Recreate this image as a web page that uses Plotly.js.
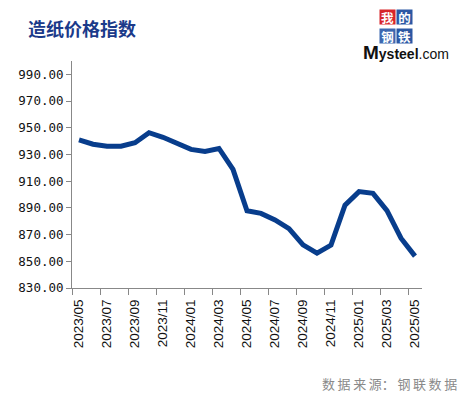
<!DOCTYPE html>
<html>
<head>
<meta charset="utf-8">
<script src="https://cdn.plot.ly/plotly-3.0.1.min.js"></script>
<style>html,body{margin:0;padding:0;background:#fff;}#chart{width:463px;height:397px;}</style>
</head>
<body>
<div id="chart"></div>
<script>
const months = ["2023/05","2023/06","2023/07","2023/08","2023/09","2023/10","2023/11","2023/12",
  "2024/01","2024/02","2024/03","2024/04","2024/05","2024/06","2024/07","2024/08","2024/09",
  "2024/10","2024/11","2024/12","2025/01","2025/02","2025/03","2025/04","2025/05"];
const paperIndex = [940.9, 937.7, 936.2, 936.2, 938.8, 946.3, 942.9, 938.4, 933.8, 932.2, 934.5,
  918.8, 887.8, 885.9, 881.0, 874.5, 862.3, 856.1, 862.1, 892.0, 902.2, 900.9, 888.0, 867.3, 853.9];
const yTicks = [830, 850, 870, 890, 910, 930, 950, 970, 990];
const yTickText = yTicks.map(v => v.toFixed(2));

const L = 72, R = 422, T = 61, B = 288;
const px = v => (v - L) / (R - L);
const py = v => (B - v) / (B - T);

const trace = {
  x: months, y: paperIndex, type: 'scatter', mode: 'lines',
  line: {color: '#083D8C', width: 5, shape: 'linear'},
  hoverinfo: 'skip'
};

const boxFont = {family: 'Noto Sans CJK SC', size: 12.5, color: '#ffffff', weight: 'bold'};
const box = (t, cx, cy, col) => ({text: t, xref: 'paper', yref: 'paper', x: px(cx), y: py(cy),
  showarrow: false, width: 15, height: 14, borderpad: 0, bgcolor: col, font: boxFont,
  xanchor: 'center', yanchor: 'middle'});

const layout = {
  width: 463, height: 397,
  margin: {l: L, r: 463 - R, t: T, b: 397 - B},
  paper_bgcolor: '#ffffff', plot_bgcolor: '#ffffff',
  showlegend: false,
  title: {
    text: '造纸价格指数', xref: 'container', yref: 'container',
    x: 28 / 463, xanchor: 'left', y: 1 - 30 / 397, yanchor: 'middle',
    font: {family: 'Noto Sans CJK SC', size: 18, color: '#1B3A8A', weight: 'bold'}
  },
  xaxis: {
    type: 'category', range: [-0.5, 24.5], dtick: 2, tickson: 'boundaries',
    tickangle: -90, ticks: 'outside', ticklen: 6, tickcolor: '#888888', tickwidth: 1,
    ticklabelstandoff: 5,
    showline: true, linecolor: '#888888', linewidth: 1, showgrid: false, zeroline: false,
    tickfont: {family: 'Liberation Sans', size: 13.5, color: '#111111'}, fixedrange: true
  },
  yaxis: {
    range: [830, 1000], tickvals: yTicks, ticktext: yTickText,
    ticks: 'outside', ticklen: 5, tickcolor: '#888888', tickwidth: 1,
    showline: true, linecolor: '#888888', linewidth: 1, showgrid: false, zeroline: false,
    tickfont: {family: 'DejaVu Sans Mono', size: 12.5, color: '#111111'}, fixedrange: true
  },
  annotations: [
    box('我', 387, 17, '#D7262B'),
    box('的', 404, 17, '#2C58A4'),
    box('钢', 387, 36, '#3D68B0'),
    box('铁', 404, 36, '#2C58A4'),
    {text: '<span style="font-size:19px">M</span>ysteel<span style="font-weight:normal">.com</span>',
     xref: 'paper', yref: 'paper', x: px(406), y: py(53), showarrow: false,
     xanchor: 'center', yanchor: 'middle',
     font: {family: 'Liberation Sans', size: 14, color: '#111111', weight: 'bold'}},
    {text: '数\u2009据\u2009来\u2009源：\u2009钢\u2009联\u2009数\u2009据', xref: 'paper', yref: 'paper',
     x: px(459), y: py(383), showarrow: false, xanchor: 'right', yanchor: 'middle',
     font: {family: 'Noto Sans CJK SC', size: 13, color: '#8a8a8a'}}
  ]
};

Plotly.newPlot('chart', [trace], layout, {displayModeBar: false, staticPlot: true});
</script>
</body>
</html>
